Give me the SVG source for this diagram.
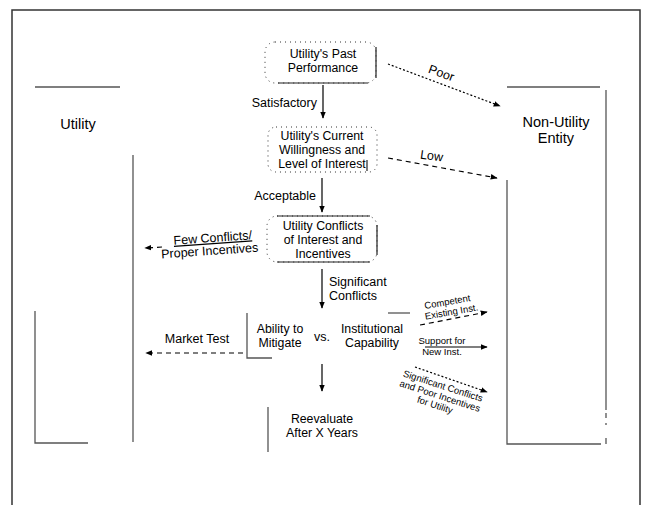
<svg xmlns="http://www.w3.org/2000/svg" width="652" height="505" viewBox="0 0 652 505">
<defs>
<marker id="ah" viewBox="0 0 10 10" refX="9" refY="5" markerWidth="7" markerHeight="7" orient="auto" markerUnits="userSpaceOnUse">
<path d="M0,1 L10,5 L0,9 Z" fill="#000"/>
</marker>
<style>
.t{font-family:"Liberation Sans",Arial,sans-serif;font-size:12.3px;fill:#000;text-anchor:middle}
.g{font-family:"Liberation Sans",Arial,sans-serif;font-size:14.5px;fill:#000;text-anchor:middle}
.l{font-family:"Liberation Sans",Arial,sans-serif;font-size:12.5px;fill:#000}
.s{font-family:"Liberation Sans",Arial,sans-serif;font-size:9.5px;fill:#000;text-anchor:middle}
.frame{fill:none;stroke:#333;stroke-width:1.5}
.ln{fill:none;stroke:#555;stroke-width:1.3}
.dot{fill:none;stroke:#333;stroke-width:1;stroke-dasharray:1 4}
.solid{fill:none;stroke:#222;stroke-width:1.2}
.arr{fill:none;stroke:#000;stroke-width:1.2;marker-end:url(#ah)}
.dash{fill:none;stroke:#000;stroke-width:1.2;stroke-dasharray:5 4;marker-end:url(#ah)}
.dotted{fill:none;stroke:#000;stroke-width:1.2;stroke-dasharray:2 2;marker-end:url(#ah)}
</style>
</defs>
<rect width="652" height="505" fill="#fff"/>
<path class="frame" d="M12,505 V10 H640 V505"/>

<g id="utility">
<path class="ln" d="M35,87 H120"/>
<text class="g" x="78" y="129">Utility</text>
<path class="ln" d="M133,155 V442"/>
<path class="ln" d="M35,311 V443 H88"/>
</g>

<g id="non-utility">
<path class="ln" d="M507,87 H600"/>
<path class="ln" d="M606,90 V410"/>
<path class="ln" d="M606,413 V418 M606,423 V425 M606,438 V444"/>
<text class="g" x="556" y="127">Non-Utility</text>
<text class="g" x="556" y="143">Entity</text>
<path class="ln" d="M507,180 V444 H601"/>
</g>

<g id="past-performance">
<rect class="dot" x="265" y="42" width="111" height="41" rx="10"/>
<path class="solid" d="M376,47 V78 M278,83 H368"/>
<text class="t" x="323" y="58">Utility's Past</text>
<text class="t" x="323" y="72">Performance</text>
</g>

<g id="current-willingness">
<rect class="dot" x="268" y="127" width="109" height="45" rx="8"/>
<path class="solid" d="M367,160 V171"/>
<text class="t" x="322" y="140">Utility's Current</text>
<text class="t" x="322" y="154">Willingness and</text>
<text class="t" x="322" y="168">Level of Interest</text>
</g>

<g id="conflicts">
<rect class="dot" x="267" y="216" width="110" height="46" rx="10"/>
<path class="solid" d="M277,216 H370 M377,225 V255 M277,262 H370"/>
<text class="t" x="323" y="230">Utility Conflicts</text>
<text class="t" x="323" y="244">of Interest and</text>
<text class="t" x="323" y="258">Incentives</text>
</g>

<g id="mitigate">
<path class="ln" d="M247,313 V358 H272"/>
<text class="t" x="280" y="333">Ability to</text>
<text class="t" x="280" y="347">Mitigate</text>
</g>

<g id="vs">
<text class="l" x="322" y="341" text-anchor="middle" font-size="12">vs.</text>
</g>

<g id="capability">
<path class="ln" d="M388,313 H410"/>
<text class="t" x="372" y="333">Institutional</text>
<text class="t" x="372" y="347">Capability</text>
</g>

<g id="reevaluate">
<path class="ln" d="M268,407 V452"/>
<text class="t" x="322" y="423">Reevaluate</text>
<text class="t" x="322" y="437">After X Years</text>
</g>

<g id="connectors">
<path class="arr" d="M323,85 V118"/>
<text class="l" x="317" y="107" text-anchor="end">Satisfactory</text>
<path class="arr" d="M322,178 V212"/>
<text class="l" x="316" y="200" text-anchor="end">Acceptable</text>
<path class="arr" d="M322,269 V308"/>
<text class="l" x="329" y="286">Significant</text>
<text class="l" x="329" y="300">Conflicts</text>
<path class="arr" d="M322,364 V391"/>

<path class="dotted" d="M388,64 L500,106"/>
<text class="l" x="440" y="77" transform="rotate(20 440 77)" text-anchor="middle" font-size="12">Poor</text>
<path class="dash" d="M388,158 L497,178"/>
<text class="l" x="431" y="160" transform="rotate(8 431 160)" text-anchor="middle" font-size="12">Low</text>

<path class="dash" d="M162,247 L145,248"/>
<text class="l" x="213" y="242" transform="rotate(-4 213 242)" text-anchor="middle" text-decoration="underline" font-size="12.5">Few Conflicts/</text>
<text class="l" x="210" y="255" transform="rotate(-4 210 255)" text-anchor="middle" font-size="12.5">Proper Incentives</text>

<path class="dash" d="M243,353 L146,353"/>
<text class="l" x="197" y="343" text-anchor="middle">Market Test</text>

<path class="dash" d="M420,325 L487,312"/>
<text class="s" x="448" y="305" transform="rotate(-10 448 305)">Competent</text>
<text class="s" x="452" y="315" transform="rotate(-10 452 315)">Existing Inst.</text>

<path class="arr" d="M425,347 L487,347"/>
<text class="s" x="442" y="344">Support for</text>
<text class="s" x="442" y="355">New Inst.</text>

<path class="dotted" d="M415,367 L487,392"/>
<text class="s" x="442" y="389" transform="rotate(18 442 389)">Significant Conflicts</text>
<text class="s" x="439" y="399" transform="rotate(18 439 399)">and Poor Incentives</text>
<text class="s" x="434" y="408" transform="rotate(18 434 408)">for Utility</text>
</g>
</svg>
